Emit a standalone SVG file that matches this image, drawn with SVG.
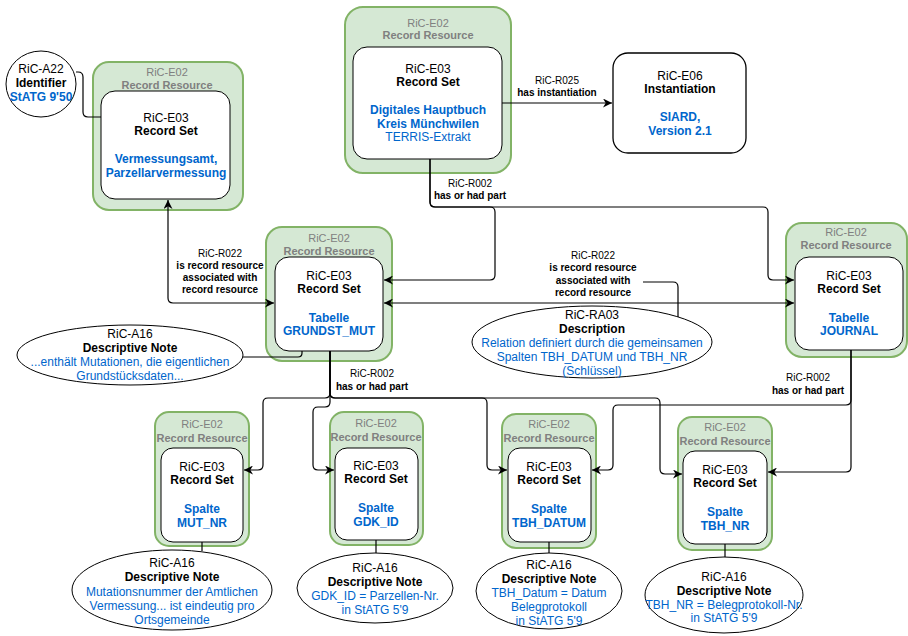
<svg xmlns="http://www.w3.org/2000/svg" width="908" height="636" viewBox="0 0 908 636">
<style>
text{font-family:"Liberation Sans",Arial,Helvetica,sans-serif;text-anchor:middle;dominant-baseline:central;fill:#000}
.t{font-size:12px}
.b{font-size:12px;font-weight:bold}
.g{font-size:11px;fill:#808080}
.gb{font-size:11px;fill:#808080;font-weight:bold}
.bl{font-size:12px;fill:#0066CC}
.blb{font-size:12px;fill:#0066CC;font-weight:bold}
.l{font-size:10px}
.lb{font-size:10px;font-weight:bold}
.outer{fill:#d5e8d4;stroke:#82b366;stroke-width:2}
.inner{fill:#fff;stroke:#000;stroke-width:1}
.ell{fill:#fff;stroke:#000;stroke-width:1}
.c{fill:none;stroke:#000;stroke-width:1.2}
</style>
<defs>
<marker id="ah" viewBox="0 0 10 10" refX="10" refY="5" markerWidth="9" markerHeight="9" markerUnits="userSpaceOnUse" orient="auto-start-reverse">
<path d="M0,0 L10,5 L0,10 L3,5 z" fill="#000"/>
</marker>
</defs>

<g id="identifier">
<ellipse class="ell" cx="41" cy="84" rx="35" ry="33"/>
<text class="t" x="41" y="69">RiC-A22</text>
<text class="b" x="41" y="83">Identifier</text>
<text class="blb" x="41" y="97">StATG 9'50</text>
</g>

<g id="rs-vermessung">
<rect class="outer" x="93" y="62" width="150" height="148" rx="16"/>
<text class="g" x="167" y="72">RiC-E02</text>
<text class="gb" x="167" y="85">Record Resource</text>
<rect class="inner" x="101" y="91" width="129" height="108" rx="14"/>
<text class="t" x="166" y="118">RiC-E03</text>
<text class="b" x="166" y="131">Record Set</text>
<text class="blb" x="166" y="159">Vermessungsamt,</text>
<text class="blb" x="166" y="173">Parzellarvermessung</text>
</g>

<g id="rs-hauptbuch">
<rect class="outer" x="345" y="7" width="166" height="166" rx="18"/>
<text class="g" x="428" y="23">RiC-E02</text>
<text class="gb" x="428" y="35">Record Resource</text>
<rect class="inner" x="353" y="47" width="149" height="112" rx="14"/>
<text class="t" x="428" y="69">RiC-E03</text>
<text class="b" x="428" y="82">Record Set</text>
<text class="blb" x="428" y="110">Digitales Hauptbuch</text>
<text class="blb" x="428" y="124">Kreis Münchwilen</text>
<text class="bl" x="428" y="137">TERRIS-Extrakt</text>
</g>

<g id="instantiation">
<rect x="613" y="53" width="133" height="100" rx="15" fill="#fff" stroke="#000" stroke-width="1.3"/>
<text class="t" x="680" y="76">RiC-E06</text>
<text class="b" x="680" y="89">Instantiation</text>
<text class="blb" x="680" y="117">SIARD,</text>
<text class="blb" x="680" y="131">Version 2.1</text>
</g>

<g id="rs-grundst">
<rect class="outer" x="266" y="227" width="126" height="134" rx="16"/>
<text class="g" x="329" y="238">RiC-E02</text>
<text class="gb" x="329" y="251">Record Resource</text>
<rect class="inner" x="275" y="257" width="108" height="94" rx="14"/>
<text class="t" x="329" y="276">RiC-E03</text>
<text class="b" x="329" y="289">Record Set</text>
<text class="blb" x="329" y="318">Tabelle</text>
<text class="blb" x="329" y="331">GRUNDST_MUT</text>
</g>

<g id="rs-journal">
<rect class="outer" x="786" y="223" width="121" height="134" rx="16"/>
<text class="g" x="846" y="232">RiC-E02</text>
<text class="gb" x="846" y="245">Record Resource</text>
<rect class="inner" x="795" y="257" width="108" height="93" rx="14"/>
<text class="t" x="849" y="276">RiC-E03</text>
<text class="b" x="849" y="289">Record Set</text>
<text class="blb" x="849" y="318">Tabelle</text>
<text class="blb" x="849" y="331">JOURNAL</text>
</g>

<g id="note-grundst">
<ellipse class="ell" cx="130" cy="355" rx="113" ry="30"/>
<text class="t" x="130" y="334">RiC-A16</text>
<text class="b" x="130" y="348">Descriptive Note</text>
<text class="bl" x="130" y="362">...enthält Mutationen, die eigentlichen</text>
<text class="bl" x="130" y="376">Grundstücksdaten...</text>
</g>

<g id="description-ra03">
<ellipse class="ell" cx="592" cy="342" rx="120" ry="36"/>
<text class="t" x="592" y="315">RiC-RA03</text>
<text class="b" x="592" y="329">Description</text>
<text class="bl" x="592" y="343">Relation definiert durch die gemeinsamen</text>
<text class="bl" x="592" y="357">Spalten TBH_DATUM und TBH_NR</text>
<text class="bl" x="592" y="371">(Schlüssel)</text>
</g>

<g id="rs-mut-nr">
<rect class="outer" x="155" y="412" width="94" height="134" rx="14"/>
<text class="g" x="202" y="424">RiC-E02</text>
<text class="gb" x="202" y="438">Record Resource</text>
<rect class="inner" x="161" y="448" width="82" height="94" rx="12"/>
<text class="t" x="202" y="467">RiC-E03</text>
<text class="b" x="202" y="480">Record Set</text>
<text class="blb" x="202" y="509">Spalte</text>
<text class="blb" x="202" y="523">MUT_NR</text>
</g>

<g id="rs-gdk-id">
<rect class="outer" x="330" y="412" width="93" height="133" rx="14"/>
<text class="g" x="376" y="423">RiC-E02</text>
<text class="gb" x="376" y="437">Record Resource</text>
<rect class="inner" x="335" y="448" width="83" height="92" rx="12"/>
<text class="t" x="376" y="466">RiC-E03</text>
<text class="b" x="376" y="479">Record Set</text>
<text class="blb" x="376" y="508">Spalte</text>
<text class="blb" x="376" y="522">GDK_ID</text>
</g>

<g id="rs-tbh-datum">
<rect class="outer" x="502" y="414" width="94" height="134" rx="14"/>
<text class="g" x="549" y="424">RiC-E02</text>
<text class="gb" x="549" y="438">Record Resource</text>
<rect class="inner" x="508" y="448" width="83" height="94" rx="12"/>
<text class="t" x="549" y="467">RiC-E03</text>
<text class="b" x="549" y="480">Record Set</text>
<text class="blb" x="549" y="509">Spalte</text>
<text class="blb" x="549" y="523">TBH_DATUM</text>
</g>

<g id="rs-tbh-nr">
<rect class="outer" x="678" y="417" width="94" height="133" rx="14"/>
<text class="g" x="725" y="427">RiC-E02</text>
<text class="gb" x="725" y="441">Record Resource</text>
<rect class="inner" x="683" y="451" width="84" height="93" rx="12"/>
<text class="t" x="725" y="470">RiC-E03</text>
<text class="b" x="725" y="483">Record Set</text>
<text class="blb" x="725" y="512">Spalte</text>
<text class="blb" x="725" y="526">TBH_NR</text>
</g>

<g id="note-mut-nr">
<ellipse class="ell" cx="172" cy="590" rx="100" ry="40"/>
<text class="t" x="172" y="563">RiC-A16</text>
<text class="b" x="172" y="577">Descriptive Note</text>
<text class="bl" x="172" y="592">Mutationsnummer der Amtlichen</text>
<text class="bl" x="172" y="606">Vermessung... ist eindeutig pro</text>
<text class="bl" x="172" y="620">Ortsgemeinde</text>
</g>

<g id="note-gdk-id">
<ellipse class="ell" cx="375" cy="588" rx="78" ry="35"/>
<text class="t" x="375" y="568">RiC-A16</text>
<text class="b" x="375" y="582">Descriptive Note</text>
<text class="bl" x="375" y="596">GDK_ID = Parzellen-Nr.</text>
<text class="bl" x="375" y="610">in StATG 5'9</text>
</g>

<g id="note-tbh-datum">
<ellipse class="ell" cx="549" cy="591" rx="73" ry="38"/>
<text class="t" x="549" y="565">RiC-A16</text>
<text class="b" x="549" y="579">Descriptive Note</text>
<text class="bl" x="549" y="593">TBH_Datum = Datum</text>
<text class="bl" x="549" y="607">Belegprotokoll</text>
<text class="bl" x="549" y="621">in StATG 5'9</text>
</g>

<g id="note-tbh-nr">
<ellipse class="ell" cx="724" cy="595" rx="79" ry="38"/>
<text class="t" x="724" y="577">RiC-A16</text>
<text class="b" x="724" y="591">Descriptive Note</text>
<text class="bl" x="724" y="605">TBH_NR = Belegprotokoll-Nr.</text>
<text class="bl" x="724" y="618">in StATG 5'9</text>
</g>

<g id="connectors">
<path class="c" d="M76 72 H78 Q83 72 83 77 V112 Q83 117 88 117 H101"/>
<path class="c" d="M502 103 H612" marker-end="url(#ah)"/>
<path class="c" d="M430 159 V202 Q430 207 435 207 H490 Q495 207 495 212 V275 Q495 280 490 280 H384" marker-end="url(#ah)"/>
<path class="c" d="M430 159 V202 Q430 207 435 207 H763 Q768 207 768 212 V275 Q768 280 773 280 H794" marker-end="url(#ah)"/>
<path class="c" d="M168 200 V298 Q168 303 173 303 H274" marker-start="url(#ah)" marker-end="url(#ah)"/>
<path class="c" d="M384 303 H794" marker-start="url(#ah)" marker-end="url(#ah)"/>
<path class="c" d="M678 317 V287 Q678 282 673 282 H643"/>
<path class="c" d="M243 357 H298 Q302 357 302 353 V351"/>
<path class="c" d="M330 351 V393 Q330 398 325 398 H268 Q263 398 263 403 V465 Q263 470 258 470 H244" marker-end="url(#ah)"/>
<path class="c" d="M330 351 V402 Q330 407 325 407 H318 Q313 407 313 412 V465 Q313 470 318 470 H334" marker-end="url(#ah)"/>
<path class="c" d="M330 351 V393 Q330 398 335 398 H482 Q487 398 487 403 V465 Q487 470 492 470 H507" marker-end="url(#ah)"/>
<path class="c" d="M330 351 V393 Q330 398 335 398 H655 Q660 398 660 403 V469 Q660 474 665 474 H682" marker-end="url(#ah)"/>
<path class="c" d="M851 350 V400 Q851 405 846 405 H618 Q613 405 613 410 V465 Q613 470 608 470 H592" marker-end="url(#ah)"/>
<path class="c" d="M851 350 V467 Q851 472 846 472 H768" marker-end="url(#ah)"/>
<path class="c" d="M202 542 V551"/>
<path class="c" d="M376 540 V553"/>
<path class="c" d="M549 542 V553"/>
<path class="c" d="M725 544 V557"/>
<text class="l" x="557" y="80">RiC-R025</text>
<text class="lb" x="557" y="92">has instantiation</text>
<text class="l" x="470" y="183">RiC-R002</text>
<text class="lb" x="470" y="195">has or had part</text>
<text class="l" x="220" y="253">RiC-R022</text>
<text class="lb" x="220" y="265">is record resource</text>
<text class="lb" x="220" y="277">associated with</text>
<text class="lb" x="220" y="289">record resource</text>
<text class="l" x="593" y="255">RiC-R022</text>
<text class="lb" x="593" y="267">is record resource</text>
<text class="lb" x="593" y="280">associated with</text>
<text class="lb" x="593" y="292">record resource</text>
<text class="l" x="372" y="373">RiC-R002</text>
<text class="lb" x="372" y="386">has or had part</text>
<text class="l" x="808" y="377">RiC-R002</text>
<text class="lb" x="808" y="390">has or had part</text>
</g>
</svg>
